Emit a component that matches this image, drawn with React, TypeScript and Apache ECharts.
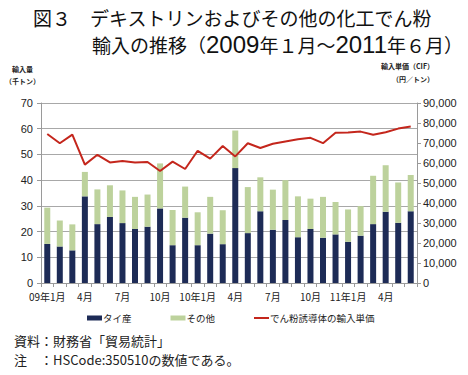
import React, { useEffect, useRef } from "react";
import * as echarts from "echarts";

const categories = [
  "09年1月", "2月", "3月", "4月", "5月", "6月", "7月", "8月", "9月", "10月", "11月", "12月",
  "10年1月", "2月", "3月", "4月", "5月", "6月", "7月", "8月", "9月", "10月", "11月", "12月",
  "11年1月", "2月", "3月", "4月", "5月", "6月",
];
const thai = [
  15.2, 14.2, 12.7, 33.7, 22.9, 25.7, 23.3, 21.0, 21.9, 29.0, 14.7, 25.4,
  14.7, 19.2, 15.1, 44.7, 19.4, 27.9, 20.7, 24.5, 17.8, 21.0, 17.6, 18.9,
  16.0, 18.4, 22.9, 27.7, 23.4, 27.9,
];
const others = [
  14.1, 10.1, 10.1, 9.5, 13.5, 12.3, 12.7, 12.5, 12.5, 17.5, 13.7, 12.1,
  12.8, 14.3, 13.2, 14.6, 17.9, 13.2, 15.6, 15.5, 15.9, 11.8, 15.9, 12.6,
  12.6, 11.5, 18.8, 18.1, 15.7, 14.1,
];
const price = [
  74500, 69900, 74200, 59200, 64100, 60300, 61000, 60300, 60500, 56000, 60700, 57000,
  66100, 62200, 68500, 63300, 69900, 67500, 69600, 70800, 71900, 72600, 69900, 75100,
  75200, 75700, 74100, 75400, 77200, 78200,
];
const seriesNames = ["タイ産", "その他", "でん粉誘導体の輸入単価"];
const titleLine1 = "図３　デキストリンおよびその他の化工でん粉";
const titleLine2 = "輸入の推移（{d|2009}年１月～{d|2011}年６月）";
const leftAxisTitle = ["輸入量", "（千トン）"];
const rightAxisTitle = ["輸入単価（CIF）", "（円／トン）"];
const notes = ["資料：財務省「貿易統計」", "注　：HSCode:350510の数値である。"];

const JP = "'Noto Sans CJK JP', 'Noto Sans', sans-serif";
const NUM = "'Liberation Sans', Arial, 'Noto Sans CJK JP', sans-serif";

export default function App() {
  const ref = useRef<HTMLDivElement>(null);
  useEffect(() => {
    if (!ref.current) return;
    const chart = echarts.init(ref.current, undefined, { renderer: "svg" });
    const axisLine = { show: true, lineStyle: { color: "#9a9a9a", width: 1 } };
    chart.setOption({
      animation: false,
      backgroundColor: "#ffffff",
      grid: { left: 41, right: 51, top: 103, bottom: 92, containLabel: false },
      legend: {
        left: 82,
        top: 307,
        itemWidth: 15,
        itemHeight: 5,
        itemGap: 39,
        textStyle: { fontFamily: JP, fontSize: 9.5, color: "#222", padding: [0, 0, 0, -4], lineHeight: 12 },
        data: [
          { name: seriesNames[0], icon: "rect" },
          { name: seriesNames[1], icon: "rect" },
          { name: seriesNames[2], icon: "path://M0,0H15V2H0Z", itemStyle: { color: "#c4261c" } },
        ],
      },
      xAxis: {
        type: "category",
        data: categories,
        boundaryGap: true,
        axisLine,
        axisTick: { show: true, alignWithLabel: false, interval: 0, length: 4, lineStyle: { color: "#9a9a9a" } },
        axisLabel: { interval: 2, fontFamily: JP, fontSize: 10, color: "#222", margin: 8 },
      },
      yAxis: [
        {
          type: "value",
          min: 0,
          max: 70,
          interval: 10,
          axisLine,
          axisTick: { show: true, length: 4, lineStyle: { color: "#9a9a9a" } },
          splitLine: { show: true, lineStyle: { color: "#a8a8a8", width: 1 } },
          axisLabel: { fontFamily: NUM, fontSize: 11, color: "#222", margin: 8 },
        },
        {
          type: "value",
          min: 0,
          max: 90000,
          interval: 10000,
          position: "right",
          axisLine,
          axisTick: { show: true, length: 4, lineStyle: { color: "#9a9a9a" } },
          splitLine: { show: false },
          axisLabel: {
            fontFamily: NUM,
            fontSize: 11,
            color: "#222",
            margin: 6,
            formatter: (v: number) => v.toLocaleString("en-US"),
          },
        },
      ],
      series: [
        {
          name: seriesNames[0],
          type: "bar",
          stack: "vol",
          data: thai,
          barWidth: 6,
          itemStyle: { color: "#1d2b56" },
        },
        {
          name: seriesNames[1],
          type: "bar",
          stack: "vol",
          data: others,
          barWidth: 6,
          itemStyle: { color: "#bdd29c" },
        },
        {
          name: seriesNames[2],
          type: "line",
          yAxisIndex: 1,
          data: price,
          symbol: "none",
          showSymbol: false,
          lineStyle: { color: "#c4261c", width: 2 },
          itemStyle: { color: "#c4261c" },
        },
      ],
      graphic: [
        {
          type: "text",
          left: 33,
          top: 8,
          style: { text: titleLine1, font: `19px ${JP}`, fill: "#111" },
        },
        {
          type: "text",
          left: 92,
          top: 32,
          style: {
            text: titleLine2,
            font: `19px ${JP}`,
            fill: "#111",
            rich: { d: { font: `24px ${NUM}`, fill: "#111" } },
          },
        },
        {
          type: "text",
          left: 12,
          top: 65,
          style: { text: leftAxisTitle[0], font: `bold 7px ${JP}`, fill: "#222" },
        },
        {
          type: "text",
          left: 5,
          top: 77,
          style: { text: leftAxisTitle[1], font: `bold 7px ${JP}`, fill: "#222" },
        },
        {
          type: "text",
          left: 381,
          top: 62,
          style: { text: rightAxisTitle[0], font: `bold 7px ${JP}`, fill: "#222" },
        },
        {
          type: "text",
          left: 392,
          top: 75,
          style: { text: rightAxisTitle[1], font: `bold 7px ${JP}`, fill: "#222" },
        },
        {
          type: "text",
          left: 14,
          top: 334,
          style: { text: notes[0], font: `13px ${JP}`, fill: "#222" },
        },
        {
          type: "text",
          left: 14,
          top: 353,
          style: { text: notes[1], font: `13px ${JP}`, fill: "#222" },
        },
      ],
    });
    return () => chart.dispose();
  }, []);
  return (
    <div
      ref={ref}
      style={{ position: "fixed", left: 0, top: 0, width: 468, height: 375, background: "#fff" }}
    />
  );
}
